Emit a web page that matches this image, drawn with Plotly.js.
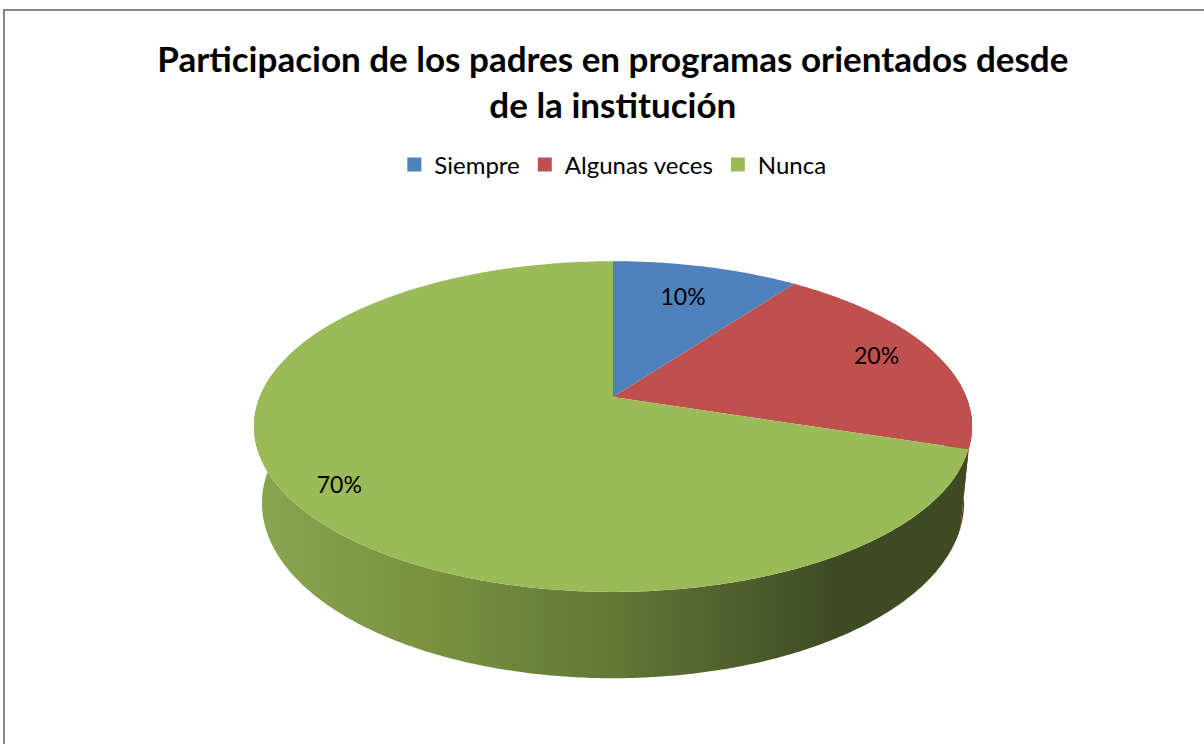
<!DOCTYPE html>
<html>
<head>
<meta charset="utf-8">
<script src="https://cdn.plot.ly/plotly-3.0.1.min.js"></script>
<style>
  html, body { margin: 0; padding: 0; background: #ffffff; }
  #chart { width: 1204px; height: 744px; }
</style>
</head>
<body>
<div id="chart"></div>
<script>
// ---- data ----
const categories = ['Siempre', 'Algunas veces', 'Nunca'];
const values = [10, 20, 70];
const labels = ['10%', '20%', '70%'];
const chartTitle = 'Participacion de los padres en programas orientados desde<br>de la institución';

// ---- style ----
const topColors = ['#4f81bd', '#c0504d', '#9bbb59'];
const sideScales = [
  [[0, '#2e4d72'], [1, '#2e4d72']],
  [[0, '#8a3634'], [1, '#6e2a28']],
  [[0, '#8ba651'], [0.25, '#789240'], [0.5, '#617836'], [0.72, '#46582a'], [0.8, '#3e4c23'], [1, '#3d4a22']]
];
const labelRadius = [0.72, 0.82, 0.87];

// ---- projection of a tilted disc (perspective) into pixel space ----
const CX = 613, CY = 397, F = 1763, DIST = 4.99, PHI = 26.94 * Math.PI / 180, DEPTH = 0.245;
const cphi = Math.cos(PHI), sphi = Math.sin(PHI);
function proj(angDeg, r, Y) {
  const a = angDeg * Math.PI / 180;
  const X = r * Math.sin(a), Z = r * Math.cos(a);
  const w = DIST + Z * cphi - Y * sphi;
  return [CX + F * X / w, CY - F * (Y * cphi + Z * sphi) / w];
}

const total = values.reduce((s, v) => s + v, 0);
const starts = [], ends = [];
let acc = 0;
values.forEach(v => { starts.push(acc / total * 360); acc += v; ends.push(acc / total * 360); });

const traces = [];
const FRONT0 = 60, FRONT1 = 300;

// side walls
values.forEach((v, i) => {
  const a0 = Math.max(starts[i], FRONT0), a1 = Math.min(ends[i], FRONT1);
  if (a1 <= a0) return;
  const xs = [], ys = [];
  for (let a = a0; a <= a1 + 1e-9; a += 0.5) { const p = proj(a, 1, 0); xs.push(p[0]); ys.push(p[1]); }
  for (let a = a1; a >= a0 - 1e-9; a -= 0.5) { const p = proj(a, 1, -DEPTH); xs.push(p[0]); ys.push(p[1]); }
  traces.push({
    type: 'scatter', mode: 'none', x: xs, y: ys, fill: 'toself',
    fillcolor: sideScales[i][sideScales[i].length - 1][1],
    fillgradient: { type: 'horizontal', colorscale: sideScales[i], start: proj(260, 1, 0)[0] - 6, stop: proj(100, 1, 0)[0] + 6 },
    hoverinfo: 'skip', showlegend: false
  });
});

// top faces
values.forEach((v, i) => {
  const xs = [CX], ys = [CY];
  for (let a = starts[i]; a <= ends[i] + 1e-9; a += 0.5) { const p = proj(a, 1, 0); xs.push(p[0]); ys.push(p[1]); }
  xs.push(CX); ys.push(CY);
  traces.push({
    type: 'scatter', mode: 'none', x: xs, y: ys, fill: 'toself', fillcolor: topColors[i],
    hoverinfo: 'skip', showlegend: false
  });
});

// data labels
const lx = [], ly = [];
values.forEach((v, i) => { const p = proj((starts[i] + ends[i]) / 2, labelRadius[i], 0); lx.push(p[0]); ly.push(p[1]); });
traces.push({
  type: 'scatter', mode: 'text', x: lx, y: ly, text: labels, textposition: 'middle center',
  textfont: { family: 'Lato, Open Sans, sans-serif', size: 23, color: '#000000' },
  hoverinfo: 'skip', showlegend: false
});

// legend entries
categories.forEach((c, i) => {
  traces.push({
    type: 'scatter', mode: 'markers', x: [null], y: [null], name: c,
    marker: { symbol: 'square', size: 14, color: topColors[i] }, hoverinfo: 'skip'
  });
});

const layout = {
  width: 1204, height: 744,
  margin: { l: 0, r: 0, t: 0, b: 0 },
  paper_bgcolor: '#ffffff', plot_bgcolor: '#ffffff',
  xaxis: { range: [0, 1204], visible: false, fixedrange: true },
  yaxis: { range: [744, 0], visible: false, fixedrange: true },
  title: {
    text: chartTitle, x: 0.509, xanchor: 'center', y: 1 - 72 / 744, yanchor: 'top', yref: 'container',
    font: { family: 'Lato, Open Sans, sans-serif', size: 35, color: '#000000', weight: 'bold' }
  },
  showlegend: true,
  legend: {
    orientation: 'h', x: 0.509, xanchor: 'center', y: 1 - 165 / 744, yanchor: 'middle',
    font: { family: 'Lato, Open Sans, sans-serif', size: 24, color: '#000000' },
    itemclick: false, itemdoubleclick: false, bgcolor: 'rgba(0,0,0,0)'
  },
  shapes: [{
    type: 'rect', xref: 'x', yref: 'y', x0: 4, y0: 10, x1: 1215, y1: 760,
    line: { color: '#868686', width: 2 }, fillcolor: 'rgba(0,0,0,0)', layer: 'below'
  }]
};

Plotly.newPlot('chart', traces, layout, { displayModeBar: false, staticPlot: true });
</script>
</body>
</html>
